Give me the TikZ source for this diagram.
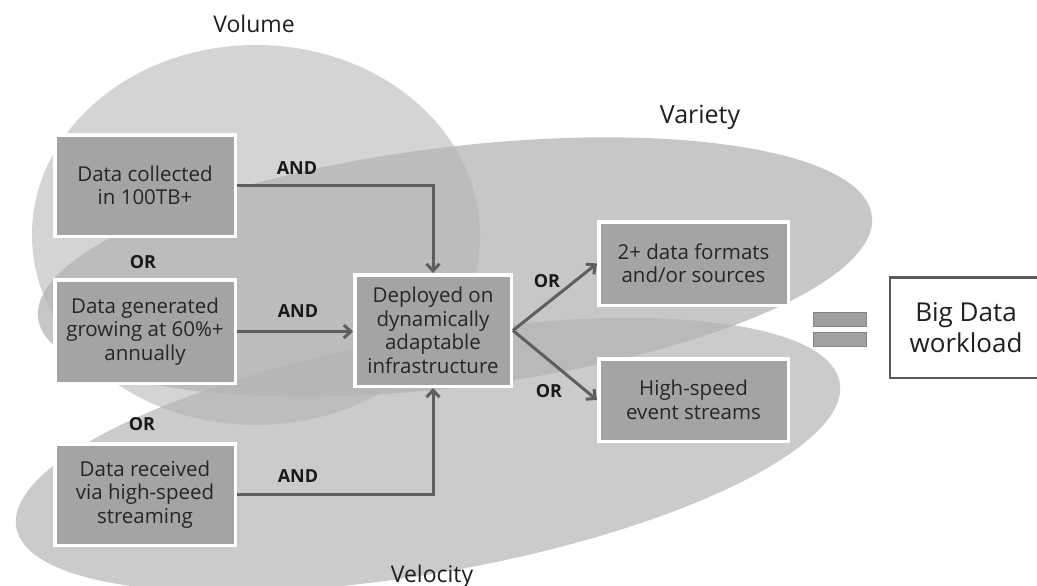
\documentclass[tikz,border=0pt]{standalone}
\usepackage{fontspec}
\setmainfont{Open Sans}
\usetikzlibrary{arrows.meta,shadows}
\definecolor{boxfill}{HTML}{A4A4A4}
\definecolor{boxtext}{HTML}{262626}
\definecolor{arrowc}{HTML}{5E5E5E}
\definecolor{ellc}{HTML}{B4B4B4}
\definecolor{eqfill}{HTML}{A0A0A0}
\definecolor{eqdraw}{HTML}{858585}
\definecolor{bigdraw}{HTML}{5A5A5A}
\begin{document}
\begin{tikzpicture}[x=1pt,y=-1pt,
  condbox/.style={rectangle, fill=boxfill, draw=white, line width=3.5pt,
    text=boxtext, align=center, inner sep=0pt,
    font=\fontsize{20.5}{23.5}\selectfont,
    drop shadow={shadow xshift=1.5pt, shadow yshift=-1.5pt, opacity=0.25}},
  conn/.style={draw=arrowc, line width=3pt,
    -{Straight Barb[length=7pt,width=13pt]}},
  oplabel/.style={anchor=base, text=black!90, font=\fontsize{18}{20}\selectfont\bfseries},
  title/.style={anchor=base, text=black!88},
  venn/.style={fill=ellc}]
\clip (0,0) rectangle (1037,586);
\fill[white] (0,0) rectangle (1037,586);

% Venn ellipses
\fill[venn, fill opacity=0.56] (256,235) ellipse [x radius=224, y radius=190];
\fill[venn, fill opacity=0.74, rotate around={7:(455,267)}] (455,267) ellipse [x radius=420, y radius=120];
\fill[venn, fill opacity=0.69, rotate around={10:(428,455)}] (428,455) ellipse [x radius=418, y radius=118];

% titles
\node[title, font=\fontsize{23}{26}\selectfont] (tvol) at (254,33) {Volume};
\node[title, font=\fontsize{25}{28}\selectfont] (tvar) at (700,123) {Variety};
\node[title, font=\fontsize{23}{26}\selectfont] (tvel) at (432,582) {Velocity};

% condition boxes
\node[condbox, minimum width=180.5pt, minimum height=101.5pt] (b1) at (145,185.5) {Data collected\\in 100TB+};
\node[condbox, minimum width=180.5pt, minimum height=103.5pt] (b2) at (145,331.5) {Data generated\\growing at 60\%+\\annually};
\node[condbox, minimum width=180.5pt, minimum height=101.5pt] (b3) at (145,494.5) {Data received\\via high-speed\\streaming};
\node[condbox, minimum width=156.5pt, minimum height=111.5pt] (c) at (433,330.5) {Deployed on\\dynamically\\adaptable\\infrastructure};
\node[condbox, minimum width=189.5pt, minimum height=83.5pt] (v1) at (693.5,263.5) {2+ data formats\\and/or sources};
\node[condbox, minimum width=189.5pt, minimum height=82.5pt] (v2) at (693.5,400) {High-speed\\event streams};

% connectors
\draw[conn] (b1.east) -| (c.north);
\draw[conn] (b2.east) -- (b2.east -| c.west);
\draw[conn] (b3.east) -| (c.south);
\draw[conn] (c.east) -- (v1.west);
\draw[conn] (c.east) -- (v2.west);

% operator labels
\node[oplabel] (and1) at (297,174) {AND};
\node[oplabel] (and2) at (298,317) {AND};
\node[oplabel] (and3) at (298,482) {AND};
\node[oplabel] (or1) at (143,268) {OR};
\node[oplabel] (or2) at (142,430) {OR};
\node[oplabel] (or3) at (547,287) {OR};
\node[oplabel] (or4) at (549,397) {OR};

% equals sign
\node[rectangle, fill=eqfill, draw=eqdraw, line width=1pt, minimum width=53pt, minimum height=14pt, inner sep=0pt] (eqa) at (840,319.5) {};
\node[rectangle, fill=eqfill, draw=eqdraw, line width=1pt, minimum width=53pt, minimum height=14pt, inner sep=0pt] (eqb) at (840,339.5) {};

% result box (its right side runs past the picture's edge)
\node[rectangle, fill=white, draw=bigdraw, line width=2.5pt, minimum width=156pt, minimum height=100.5pt,
  inner sep=0pt] (big) at (968,327.5) {};
\node[align=center, inner sep=0pt, text=black!88, font=\fontsize{26}{31}\selectfont] (bigtext) at (966,327.5) {Big Data\\workload};
\end{tikzpicture}
\end{document}
